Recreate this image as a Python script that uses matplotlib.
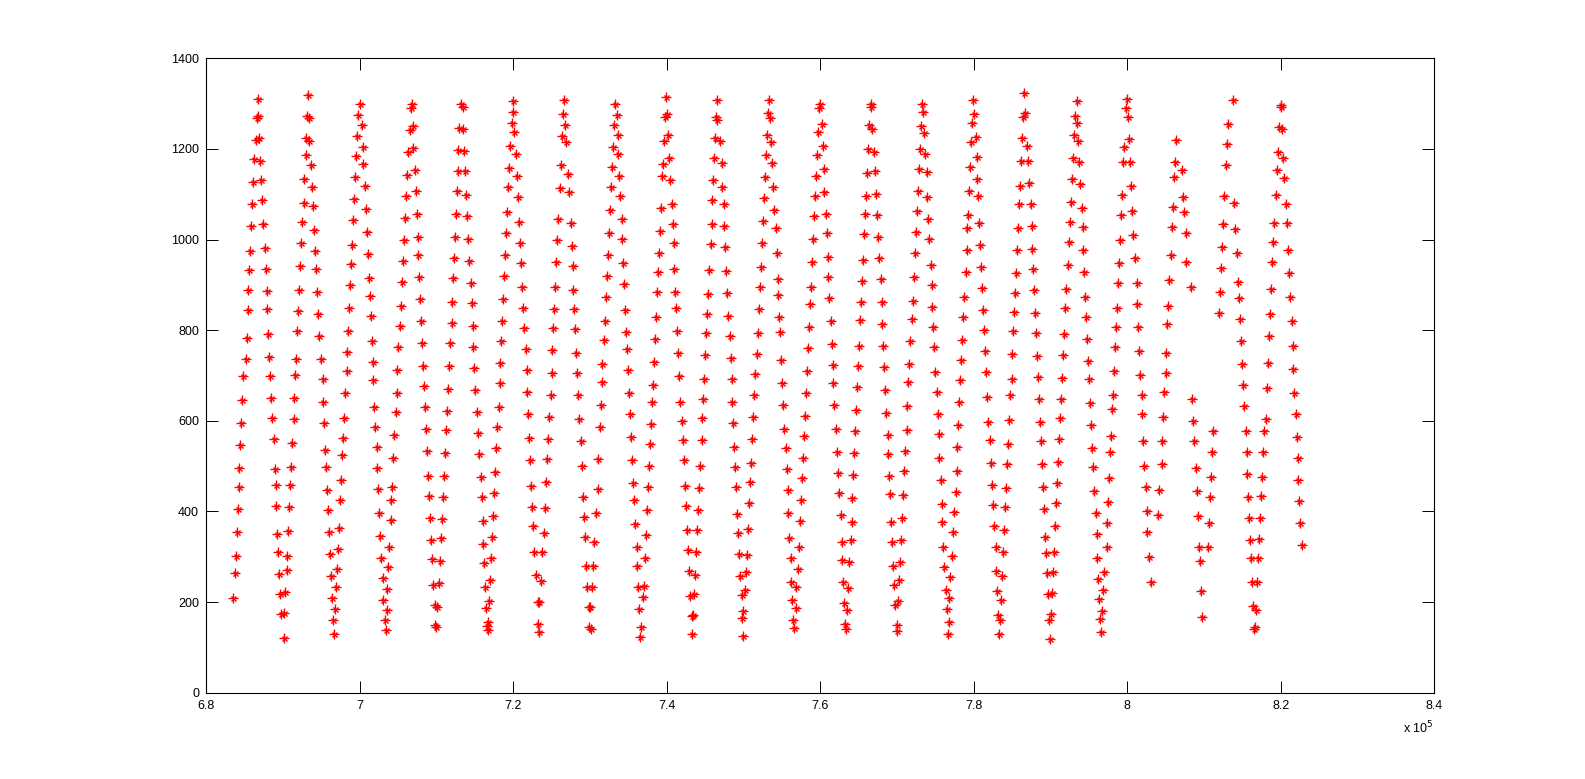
import numpy as np
import matplotlib
matplotlib.use("Agg")
import matplotlib.pyplot as plt
from matplotlib.ticker import FuncFormatter, MultipleLocator

plt.rcParams['font.family'] = ['Liberation Sans', 'DejaVu Sans']

# x values in units of 1e5 (as on the axis), y values as plotted
x_A = [6.8356,6.8374,6.8387,6.8400,6.8413,6.8426,6.8435,6.8448,6.8456,6.8469,6.8487,6.8517,6.8530,6.8543,6.8552,6.8565,6.8578,6.8591,6.8604,6.8613,6.8630,6.8647,6.8660,6.8673]
y_A = [210,264,302,354,405,453,495,546,595,645,698,736,782,845,889,933,974,1030,1079,1126,1177,1220,1268,1310]
x_B = [6.8682,6.8695,6.8704,6.8717,6.8730,6.8747,6.8765,6.8778,6.8791,6.8799,6.8812,6.8825,6.8834,6.8851,6.8864,6.8882,6.8895,6.8908,6.8917,6.8930,6.8943,6.8951,6.8964,6.8982,6.9012]
y_B = [1273,1224,1174,1132,1087,1034,981,934,886,846,792,740,699,650,606,559,493,458,411,350,310,262,218,173,120]
x_C = [6.9021,6.9034,6.9051,6.9060,6.9073,6.9086,6.9099,6.9108,6.9125,6.9142,6.9151,6.9164,6.9173,6.9190,6.9203,6.9216,6.9225,6.9238,6.9255,6.9273,6.9281,6.9299,6.9307,6.9312,6.9333]
y_C = [175,222,271,302,356,409,458,499,550,603,650,701,736,798,843,889,942,992,1038,1080,1133,1187,1224,1273,1319]
x_D = [6.9342,6.9346,6.9372,6.9385,6.9399,6.9412,6.9425,6.9438,6.9451,6.9464,6.9477,6.9494,6.9520,6.9529,6.9542,6.9555,6.9564,6.9577,6.9594,6.9607,6.9620,6.9633,6.9646,6.9659,6.9668]
y_D = [1269,1218,1164,1116,1074,1020,974,934,884,835,787,736,692,641,595,536,497,447,403,354,306,258,210,160,129]
x_E = [6.9685,6.9694,6.9711,6.9724,6.9737,6.9746,6.9759,6.9772,6.9789,6.9798,6.9811,6.9833,6.9837,6.9855,6.9868,6.9881,6.9889,6.9907,6.9915,6.9928,6.9941,6.9954,6.9972,6.9985]
y_E = [185,233,272,316,364,425,469,525,561,606,661,709,751,798,848,899,946,988,1043,1089,1137,1185,1229,1274]
x_F = [7.0002,7.0028,7.0041,7.0050,7.0067,7.0080,7.0093,7.0106,7.0119,7.0132,7.0145,7.0158,7.0171,7.0180,7.0189,7.0206,7.0224,7.0232,7.0245,7.0258,7.0271,7.0284,7.0302,7.0310,7.0332,7.0345]
y_F = [1299,1252,1205,1166,1118,1067,1016,968,915,876,831,775,729,690,630,587,542,495,449,397,346,298,252,205,160,138]
x_G = [7.0354,7.0362,7.0371,7.0384,7.0406,7.0410,7.0428,7.0436,7.0450,7.0471,7.0484,7.0493,7.0501,7.0523,7.0536,7.0554,7.0562,7.0584,7.0597,7.0610,7.0619,7.0636,7.0653,7.0666]
y_G = [183,229,278,322,380,425,453,517,568,620,661,711,762,809,854,906,953,998,1047,1096,1143,1194,1242,1291]
x_H = [7.0679,7.0692,7.0701,7.0723,7.0736,7.0749,7.0758,7.0766,7.0779,7.0792,7.0805,7.0818,7.0831,7.0844,7.0858,7.0871,7.0884,7.0892,7.0901,7.0918,7.0936,7.0949,7.0962,7.0979,7.0988]
y_H = [1299,1251,1203,1154,1107,1057,1005,966,917,868,820,771,721,677,630,581,533,478,434,385,337,295,238,194,149]
x_I = [7.1001,7.1014,7.1040,7.1053,7.1066,7.1079,7.1092,7.1101,7.1114,7.1127,7.1135,7.1148,7.1170,7.1183,7.1200,7.1209,7.1222,7.1231,7.1244,7.1253,7.1266,7.1279,7.1287,7.1300,7.1322]
y_I = [144,188,241,291,341,383,431,478,528,580,622,670,720,771,815,862,915,959,1006,1056,1106,1151,1198,1246,1299]
x_J = [7.1344,7.1353,7.1366,7.1379,7.1387,7.1396,7.1409,7.1431,7.1448,7.1461,7.1474,7.1483,7.1492,7.1505,7.1526,7.1548,7.1561,7.1578,7.1591,7.1605,7.1613,7.1622,7.1635,7.1644,7.1665,7.1670]
y_J = [1293,1243,1196,1151,1098,1051,1002,953,903,859,810,762,716,667,620,572,526,477,431,378,328,286,233,186,147,138]
x_K = [7.1678,7.1687,7.1700,7.1713,7.1726,7.1739,7.1752,7.1761,7.1778,7.1796,7.1813,7.1830,7.1830,7.1848,7.1861,7.1874,7.1882,7.1895,7.1908,7.1926,7.1939,7.1952,7.1960,7.1982,7.1995]
y_K = [155,203,249,297,344,390,440,486,539,587,630,683,727,775,821,869,920,966,1014,1060,1117,1157,1207,1258,1306]
x_L = [7.2004,7.2017,7.2038,7.2056,7.2069,7.2082,7.2095,7.2103,7.2121,7.2134,7.2147,7.2164,7.2177,7.2186,7.2199,7.2208,7.2221,7.2234,7.2251,7.2264,7.2277,7.2299,7.2321,7.2329]
y_L = [1281,1237,1188,1141,1093,1038,992,948,895,848,804,758,712,663,615,561,514,456,409,368,311,260,200,152]
x_M = [7.2338,7.2342,7.2364,7.2381,7.2399,7.2416,7.2433,7.2446,7.2459,7.2473,7.2490,7.2503,7.2512,7.2525,7.2533,7.2546,7.2559,7.2577,7.2590,7.2611,7.2624,7.2642,7.2655,7.2668]
y_M = [135,200,246,311,352,407,464,515,559,608,656,705,756,804,846,895,950,998,1045,1113,1165,1229,1276,1309]
x_N = [7.2681,7.2694,7.2720,7.2733,7.2750,7.2763,7.2776,7.2785,7.2798,7.2811,7.2824,7.2837,7.2850,7.2863,7.2881,7.2902,7.2915,7.2928,7.2941,7.2954,7.2967,7.2989,7.2994]
y_N = [1253,1215,1145,1104,1036,986,942,889,846,802,750,705,656,603,556,501,431,387,343,280,234,190,146]
x_O = [7.3011,7.3002,7.3033,7.3046,7.3059,7.3080,7.3102,7.3111,7.3128,7.3141,7.3154,7.3159,7.3185,7.3198,7.3211,7.3228,7.3241,7.3254,7.3263,7.3276,7.3284,7.3306,7.3319,7.3328]
y_O = [140,188,234,280,333,397,449,515,586,635,685,725,778,821,873,920,966,1014,1065,1117,1159,1205,1253,1299]
x_P = [7.3350,7.3363,7.3371,7.3384,7.3397,7.3415,7.3423,7.3436,7.3449,7.3462,7.3471,7.3489,7.3502,7.3515,7.3528,7.3536,7.3549,7.3562,7.3580,7.3593,7.3610,7.3619,7.3632,7.3645,7.3658]
y_P = [1275,1231,1188,1141,1096,1045,1001,948,902,845,797,758,712,661,614,564,514,462,425,372,322,280,233,185,122]
x_Q = [7.3667,7.3693,7.3710,7.3723,7.3736,7.3749,7.3762,7.3771,7.3784,7.3797,7.3814,7.3827,7.3840,7.3853,7.3866,7.3879,7.3892,7.3901,7.3914,7.3927,7.3936,7.3957,7.3971,7.3979,7.3997]
y_Q = [144,212,236,297,348,403,453,501,549,593,641,678,729,780,830,884,928,970,1019,1069,1141,1166,1218,1270,1314]
x_R = [7.4001,7.4023,7.4036,7.4049,7.4066,7.4079,7.4092,7.4101,7.4114,7.4127,7.4140,7.4153,7.4166,7.4175,7.4205,7.4218,7.4231,7.4240,7.4253,7.4266,7.4279,7.4292,7.4305,7.4327,7.4335]
y_R = [1276,1231,1179,1131,1078,1034,992,934,884,848,799,749,699,641,600,558,514,456,411,359,314,269,214,169,129]
x_S = [7.4348,7.4357,7.4370,7.4387,7.4396,7.4405,7.4422,7.4435,7.4457,7.4466,7.4479,7.4492,7.4500,7.4518,7.4531,7.4544,7.4557,7.4574,7.4587,7.4596,7.4609,7.4622,7.4631,7.4639,7.4652]
y_S = [172,218,260,311,359,403,451,501,558,606,648,692,745,793,835,879,933,990,1034,1087,1131,1181,1223,1271,1309]
x_T = [7.4661,7.4700,7.4717,7.4726,7.4743,7.4752,7.4765,7.4778,7.4791,7.4804,7.4822,7.4835,7.4848,7.4856,7.4869,7.4882,7.4891,7.4904,7.4922,7.4935,7.4948,7.4961,7.4987,7.4987,7.5000]
y_T = [1264,1218,1168,1115,1078,1030,983,931,883,831,788,738,692,642,595,543,497,453,394,352,305,258,216,164,124]
x_U = [7.5000,7.5021,7.5034,7.5052,7.5065,7.5078,7.5086,7.5099,7.5112,7.5130,7.5143,7.5152,7.5173,7.5186,7.5204,7.5217,7.5230,7.5243,7.5256,7.5269,7.5282,7.5295,7.5308,7.5317,7.5334]
y_U = [181,227,266,304,361,418,464,506,559,609,656,703,747,793,846,896,939,992,1041,1091,1137,1187,1231,1279,1309]
x_V = [7.5347,7.5360,7.5378,7.5390,7.5403,7.5421,7.5434,7.5447,7.5456,7.5469,7.5482,7.5490,7.5499,7.5521,7.5534,7.5551,7.5564,7.5577,7.5586,7.5599,7.5616,7.5621,7.5638,7.5651,7.5664]
y_V = [1268,1216,1168,1115,1065,1026,970,914,878,828,795,734,683,635,581,539,493,447,396,341,297,245,205,161,142]
x_W = [7.5681,7.5690,7.5716,7.5725,7.5738,7.5751,7.5760,7.5781,7.5794,7.5803,7.5816,7.5833,7.5838,7.5855,7.5868,7.5881,7.5898,7.5911,7.5924,7.5933,7.5946,7.5964,7.5977,7.5990,7.5998]
y_W = [186,233,272,321,379,425,473,517,567,611,661,709,760,806,857,896,951,1001,1052,1095,1141,1187,1237,1290,1299]
x_X = [7.6020,7.6033,7.6050,7.6055,7.6072,7.6085,7.6098,7.6107,7.6116,7.6137,7.6150,7.6163,7.6172,7.6185,7.6207,7.6224,7.6237,7.6250,7.6267,7.6281,7.6289,7.6302,7.6315,7.6324,7.6337]
y_X = [1255,1206,1155,1104,1056,1014,961,918,870,821,769,723,683,635,581,532,484,440,392,333,293,245,197,152,140]
x_Y = [7.6354,7.6367,7.6380,7.6398,7.6411,7.6419,7.6432,7.6445,7.6454,7.6467,7.6485,7.6489,7.6506,7.6519,7.6532,7.6550,7.6563,7.6572,7.6585,7.6598,7.6615,7.6628,7.6641,7.6658]
y_Y = [183,230,288,336,376,429,481,528,578,624,674,720,765,823,862,909,955,1012,1056,1097,1146,1200,1253,1299]
x_Z = [7.6658,7.6671,7.6706,7.6715,7.6728,7.6745,7.6758,7.6771,7.6788,7.6801,7.6810,7.6823,7.6836,7.6845,7.6858,7.6880,7.6888,7.6901,7.6910,7.6923,7.6932,7.6945,7.6962,7.6975,7.6997,7.6997]
y_Z = [1293,1243,1193,1152,1100,1054,1005,959,912,862,813,765,718,667,617,569,527,479,438,376,333,280,238,194,150,137]
x_AA = [7.7010,7.7027,7.7040,7.7053,7.7070,7.7083,7.7092,7.7105,7.7127,7.7136,7.7149,7.7157,7.7170,7.7192,7.7205,7.7222,7.7235,7.7248,7.7266,7.7279,7.7287,7.7301,7.7314,7.7331]
y_AA = [203,249,289,338,385,436,489,534,580,633,685,725,776,825,864,917,970,1016,1064,1108,1155,1199,1251,1299]
x_AB = [7.7344,7.7353,7.7366,7.7387,7.7396,7.7409,7.7422,7.7439,7.7452,7.7461,7.7474,7.7487,7.7496,7.7518,7.7531,7.7544,7.7552,7.7570,7.7583,7.7591,7.7604,7.7617,7.7635,7.7648,7.7661]
y_AB = [1282,1236,1189,1148,1093,1045,1001,944,900,852,806,762,708,664,615,571,517,469,416,376,321,277,227,184,129]
x_AC = [7.7674,7.7683,7.7696,7.7722,7.7735,7.7748,7.7765,7.7778,7.7787,7.7800,7.7813,7.7822,7.7835,7.7852,7.7856,7.7878,7.7895,7.7908,7.7917,7.7930,7.7939,7.7952,7.7961,7.7974,7.7995]
y_AC = [157,208,256,302,355,398,442,489,543,591,641,690,734,778,828,874,928,978,1025,1054,1108,1161,1215,1257,1309]
x_AD = [7.8008,7.8030,7.8039,7.8047,7.8060,7.8073,7.8082,7.8095,7.8108,7.8126,7.8139,7.8152,7.8160,7.8178,7.8191,7.8212,7.8225,7.8243,7.8256,7.8269,7.8286,7.8291,7.8308,7.8321,7.8330]
y_AD = [1276,1226,1183,1133,1096,1037,988,939,892,845,800,754,707,653,597,558,506,458,414,368,321,269,225,172,129]
x_AE = [7.8343,7.8356,7.8373,7.8386,7.8399,7.8408,7.8421,7.8429,7.8451,7.8460,7.8473,7.8495,7.8503,7.8516,7.8525,7.8538,7.8551,7.8568,7.8581,7.8590,7.8603,7.8612,7.8634,7.8647,7.8660]
y_AE = [161,205,258,310,358,409,451,504,549,602,657,692,747,798,839,881,927,976,1025,1078,1118,1173,1223,1271,1323]
x_AF = [7.8668,7.8690,7.8703,7.8725,7.8742,7.8755,7.8764,7.8777,7.8790,7.8799,7.8812,7.8829,7.8842,7.8855,7.8868,7.8881,7.8894,7.8907,7.8920,7.8933,7.8942,7.8955,7.8968,7.8985,7.8998]
y_AF = [1279,1207,1173,1124,1078,1030,979,934,889,837,793,744,697,648,597,556,504,453,405,343,308,264,217,161,118]
x_AG = [7.9003,7.9016,7.9029,7.9046,7.9059,7.9072,7.9089,7.9102,7.9116,7.9129,7.9142,7.9155,7.9168,7.9176,7.9189,7.9202,7.9233,7.9246,7.9254,7.9263,7.9276,7.9289,7.9307,7.9320,7.9341]
y_AG = [173,219,266,311,367,419,462,508,559,606,648,694,745,791,848,890,944,994,1038,1082,1134,1181,1231,1273,1306]
x_AH = [7.9350,7.9363,7.9376,7.9385,7.9407,7.9420,7.9428,7.9437,7.9450,7.9463,7.9480,7.9493,7.9506,7.9519,7.9528,7.9545,7.9558,7.9571,7.9589,7.9602,7.9611,7.9624,7.9632,7.9645,7.9658]
y_AH = [1258,1218,1170,1122,1069,1027,978,928,874,828,781,731,692,639,591,539,497,444,396,350,297,250,207,162,133]
x_AI = [7.9676,7.9680,7.9702,7.9732,7.9741,7.9754,7.9762,7.9776,7.9789,7.9806,7.9819,7.9832,7.9841,7.9854,7.9871,7.9884,7.9893,7.9906,7.9919,7.9928,7.9941,7.9962,7.9984,8.0001]
y_AI = [181,227,266,321,374,420,473,532,567,625,656,710,763,808,849,904,948,998,1054,1098,1170,1204,1290,1310]
x_AJ = [8.0014,8.0027,8.0036,8.0049,8.0066,8.0080,8.0101,8.0123,8.0132,8.0145,8.0158,8.0166,8.0188,8.0197,8.0210,8.0223,8.0240,8.0253,8.0262,8.0288,8.0305]
y_AJ = [1270,1221,1172,1118,1063,1010,959,905,858,808,755,701,656,614,556,501,455,401,354,299,244]
x_AK = [8.0405,8.0418,8.0449,8.0457,8.0470,8.0483,8.0501,8.0501,8.0514,8.0536,8.0549,8.0566,8.0588,8.0601,8.0609,8.0622,8.0635]
y_AK = [392,447,504,556,608,664,706,750,813,854,911,966,1028,1071,1139,1170,1220]
x_AL = [8.0709,8.0722,8.0744,8.0761,8.0766,8.0831,8.0848,8.0861,8.0874,8.0896,8.0913,8.0926,8.0939,8.0948,8.0961,8.0978]
y_AL = [1154,1093,1060,1014,950,895,648,600,556,495,445,390,322,291,225,168]
x_AM = [8.1056,8.1069,8.1078,8.1091,8.1109,8.1122,8.1195,8.1208,8.1217,8.1230,8.1243,8.1260,8.1287,8.1304,8.1317,8.1373]
y_AM = [322,374,431,475,531,578,837,884,937,983,1034,1095,1165,1211,1255,1308]
x_AN = [8.1391,8.1404,8.1434,8.1447,8.1460,8.1469,8.1478,8.1491,8.1512,8.1525,8.1543,8.1556,8.1564,8.1577,8.1590,8.1599,8.1612,8.1630,8.1643,8.1664]
y_AN = [1080,1023,970,907,870,824,776,725,679,633,578,531,482,431,386,336,297,244,191,144]
x_AO = [8.1656,8.1673,8.1695,8.1708,8.1721,8.1729,8.1742,8.1760,8.1773,8.1786,8.1803,8.1825,8.1838,8.1847,8.1860,8.1873,8.1890,8.1903,8.1916,8.1934,8.1947,8.1960,8.1977,8.1999]
y_AO = [140,183,244,297,339,385,433,475,531,578,603,672,728,787,835,890,950,994,1037,1098,1154,1194,1248,1297]
x_AP = [8.2003,8.2020,8.2033,8.2046,8.2064,8.2077,8.2099,8.2107,8.2120,8.2142,8.2155,8.2164,8.2177,8.2194,8.2207,8.2220,8.2229,8.2242,8.2251,8.2272]
y_AP = [1292,1243,1181,1135,1079,1036,976,926,873,820,766,714,662,614,565,517,469,423,374,326]

X_SCALE = 1e5
x_ticks = [6.8, 7.0, 7.2, 7.4, 7.6, 7.8, 8.0, 8.2, 8.4]
y_ticks = [0, 200, 400, 600, 800, 1000, 1200, 1400]

lines = [(x_A, y_A), (x_B, y_B), (x_C, y_C), (x_D, y_D), (x_E, y_E), (x_F, y_F),
         (x_G, y_G), (x_H, y_H), (x_I, y_I), (x_J, y_J), (x_K, y_K), (x_L, y_L),
         (x_M, y_M), (x_N, y_N), (x_O, y_O), (x_P, y_P), (x_Q, y_Q), (x_R, y_R),
         (x_S, y_S), (x_T, y_T), (x_U, y_U), (x_V, y_V), (x_W, y_W), (x_X, y_X),
         (x_Y, y_Y), (x_Z, y_Z), (x_AA, y_AA), (x_AB, y_AB), (x_AC, y_AC),
         (x_AD, y_AD), (x_AE, y_AE), (x_AF, y_AF), (x_AG, y_AG), (x_AH, y_AH),
         (x_AI, y_AI), (x_AJ, y_AJ), (x_AK, y_AK), (x_AL, y_AL), (x_AM, y_AM),
         (x_AN, y_AN), (x_AO, y_AO), (x_AP, y_AP)]

xs = np.concatenate([np.asarray(lx, dtype=float) for lx, _ in lines]) * X_SCALE
ys = np.concatenate([np.asarray(ly, dtype=float) for _, ly in lines])

fig = plt.figure(figsize=(15.85, 7.79), dpi=100)
fig.patch.set_facecolor('white')
ax = fig.add_axes([0.13, 0.1108, 0.775, 0.8144])

# MATLAB-like asterisk: a plus with short diagonals
ax.plot(xs, ys, linestyle='none', marker='+', color='#ff0000', ms=6.8, mew=1.0)
ax.plot(xs, ys, linestyle='none', marker='x', color='#ff0000', ms=3.6, mew=1.0)

ax.set_xlim(6.8 * X_SCALE, 8.4 * X_SCALE)
ax.set_ylim(0, 1400)
ax.set_xticks([t * X_SCALE for t in x_ticks])
ax.set_yticks(y_ticks)
ax.xaxis.set_major_formatter(FuncFormatter(lambda v, p: f"{v / X_SCALE:g}"))
ax.yaxis.set_major_formatter(FuncFormatter(lambda v, p: f"{v:g}"))

ax.tick_params(axis='both', which='major', direction='in', length=8.6, width=0.7,
               top=True, right=True, labelsize=9, pad=5, colors='black')
for sp in ax.spines.values():
    sp.set_linewidth(0.8)
    sp.set_color('black')

ax.text(0.9745, -0.056, r'x 10$^{5}$', transform=ax.transAxes, fontsize=9,
        ha='left', va='center')

fig.savefig('out.png', dpi=100, facecolor='white')
